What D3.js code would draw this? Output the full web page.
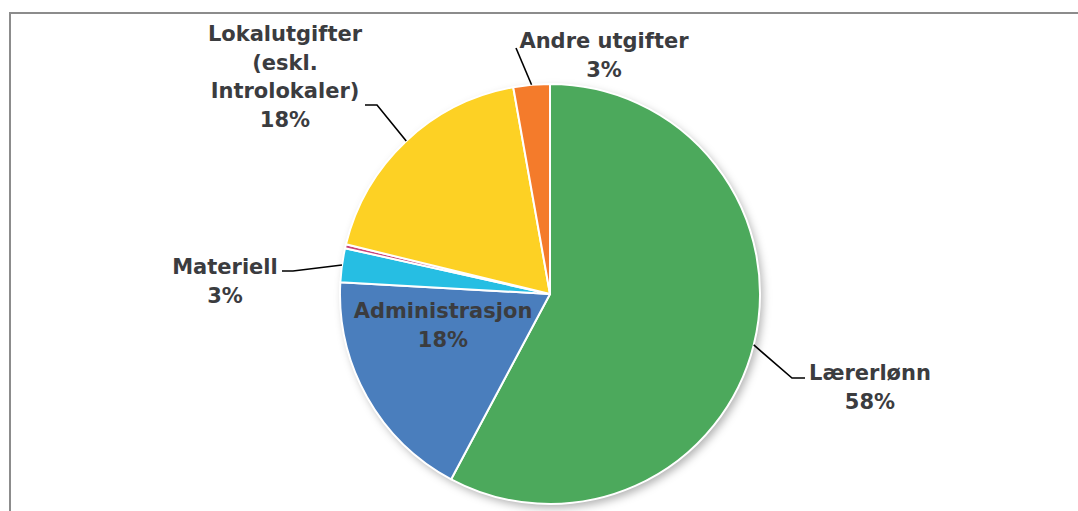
<!DOCTYPE html>
<html>
<head>
<meta charset="utf-8">
<script src="https://cdn.jsdelivr.net/npm/d3@7"></script>
<style>
  html, body { margin: 0; padding: 0; background: #fff; }
  svg { display: block; }
  .lbl { font-family: "DejaVu Sans", Verdana, sans-serif; font-weight: bold; font-size: 21px; fill: #3b3c3f; }
</style>
</head>
<body>
<svg id="chart" width="1078" height="511"></svg>
<script>
  // ============================================================
  // Data
  // ============================================================
  const categories = ["Lærerlønn", "Administrasjon", "Materiell", "Introlokaler", "Lokalutgifter (eskl. Introlokaler)", "Andre utgifter"];
  const shares = [57.8, 18.1, 2.6, 0.3, 18.4, 2.8];
  const colors = ["#4ca95c", "#4a7ebd", "#26bee3", "#c8437a", "#fdd124", "#f47b2b"];
  // label lines per slice (null = no label)
  const labelLines = [
    ["Lærerlønn"],
    ["Administrasjon"],
    ["Materiell"],
    null,
    ["Lokalutgifter", "(eskl.", "Introlokaler)"],
    ["Andre utgifter"]
  ];

  // ============================================================
  // Layout
  // ============================================================
  const svg = d3.select("#chart");
  const W = 1078, H = 511;
  const cx = 550, cy = 294, R = 210;
  const lineH = 28.5;

  // label placement: text centre, first line y, elbow point of leader and its tail
  const labelPos = [
    { x: 870, y: 380, leader: { ex: 792, ey: 378, tail: 13 }, inside: false },
    { x: 443, y: 318, inside: true },
    { x: 225, y: 274, leader: { ex: 293, ey: 271, tail: 11 }, inside: false },
    null,
    { x: 285, y: 41, leader: { ex: 377, ey: 105, tail: 12 }, inside: false },
    { x: 604, y: 48, leader: { ex: 516, ey: 48, tail: 0 }, inside: false }
  ];

  // frame
  svg.append("path")
    .attr("d", `M10,${H + 5} V13 H${W + 5}`)
    .attr("fill", "none")
    .attr("stroke", "#8c8c8c")
    .attr("stroke-width", 2);

  const defs = svg.append("defs");
  const f = defs.append("filter").attr("id", "shadow")
    .attr("x", "-20%").attr("y", "-20%").attr("width", "140%").attr("height", "140%");
  f.append("feDropShadow")
    .attr("dx", 3).attr("dy", 4).attr("stdDeviation", 4)
    .attr("flood-color", "#000").attr("flood-opacity", 0.3);

  const data = categories.map((c, i) => ({ name: c, value: shares[i], color: colors[i], i }));

  const pie = d3.pie().sort(null).value(d => d.value);
  const arcs = pie(data);
  const arc = d3.arc().innerRadius(0).outerRadius(R);

  const g = svg.append("g").attr("transform", `translate(${cx},${cy})`);

  g.append("circle").attr("r", R).attr("fill", "#fff").attr("filter", "url(#shadow)");

  g.selectAll("path.slice")
    .data(arcs)
    .enter()
    .append("path")
    .attr("class", "slice")
    .attr("d", arc)
    .attr("fill", d => d.data.color)
    .attr("stroke", "#fff")
    .attr("stroke-width", 2)
    .attr("stroke-linejoin", "round");

  const pct = d3.format(".0%");

  arcs.forEach(a => {
    const i = a.data.i;
    const pos = labelPos[i];
    if (!pos || !labelLines[i]) return;
    const lines = labelLines[i].concat([pct(a.data.value / 100)]);

    if (!pos.inside) {
      const mid = (a.startAngle + a.endAngle) / 2;
      const px = cx + Math.sin(mid) * R;
      const py = cy - Math.cos(mid) * R;
      const side = pos.x < pos.leader.ex ? -1 : 1;
      const hx = pos.leader.ex + side * pos.leader.tail;
      svg.append("polyline")
        .attr("points", `${px},${py} ${pos.leader.ex},${pos.leader.ey} ${hx},${pos.leader.ey}`)
        .attr("fill", "none")
        .attr("stroke", "#000")
        .attr("stroke-width", 1.6);
    }

    const t = svg.append("text")
      .attr("class", "lbl")
      .attr("text-anchor", "middle")
      .attr("x", pos.x)
      .attr("y", pos.y);
    lines.forEach((s, k) => {
      t.append("tspan").attr("x", pos.x).attr("y", pos.y + k * lineH).text(s);
    });
  });
</script>
</body>
</html>
